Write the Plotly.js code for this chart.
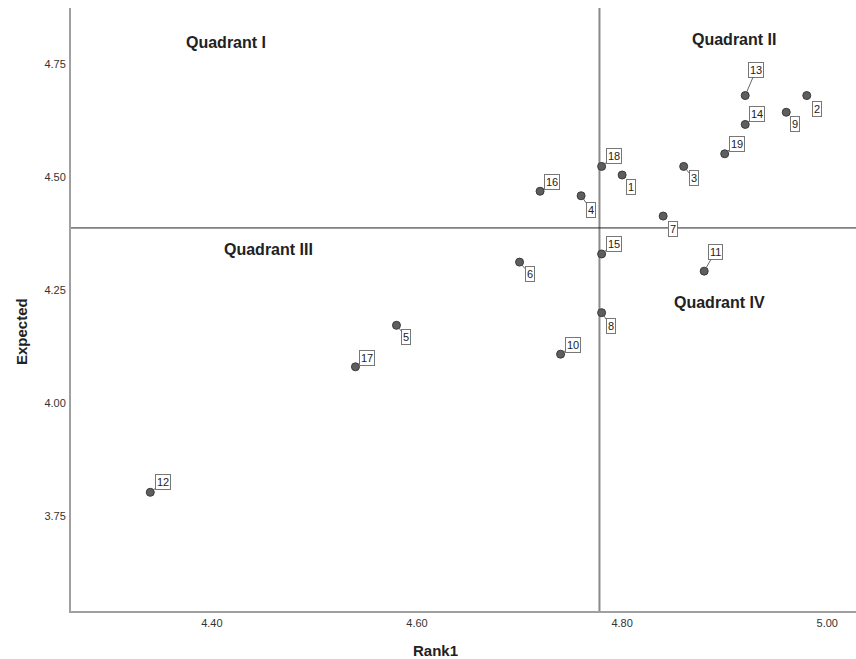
<!DOCTYPE html>
<html>
<head>
<meta charset="utf-8">
<script src="https://cdn.plot.ly/plotly-3.0.1.min.js"></script>
<style>
  html, body { margin: 0; padding: 0; background: #fff; }
  #chart { width: 856px; height: 659px; }
</style>
</head>
<body>
<div id="chart"></div>
<script>
// ---- data ----
const itemIds  = ["13", "2", "9", "14", "19", "3", "18", "1", "16", "4", "7", "15", "6", "11", "8", "5", "10", "17", "12"];
const rank1    = [4.92, 4.98, 4.96, 4.92, 4.90, 4.86, 4.78, 4.80, 4.72, 4.76, 4.84, 4.78, 4.70, 4.88, 4.78, 4.58, 4.74, 4.54, 4.34];
const expected = [4.681, 4.681, 4.644, 4.617, 4.552, 4.524, 4.524, 4.505, 4.469, 4.459, 4.414, 4.330, 4.312, 4.292, 4.200, 4.172, 4.108, 4.080, 3.802];
const xTickVals = [4.40, 4.60, 4.80, 5.00];
const xTickText = ["4.40", "4.60", "4.80", "5.00"];
const yTickVals = [3.75, 4.00, 4.25, 4.50, 4.75];
const yTickText = ["3.75", "4.00", "4.25", "4.50", "4.75"];
const quadrantNames = ["Quadrant I", "Quadrant II", "Quadrant III", "Quadrant IV"];
const xTitle = "Rank1";
const yTitle = "Expected";

// reference lines at the means of the two variables
const mean = a => a.reduce((s, v) => s + v, 0) / a.length;
const rank1Mean = mean(rank1);
const expectedMean = mean(expected);

// ---- layout-only label offsets (pixels from point to label box centre) ----
const labelDx = [11, 10, 9, 12, 12, 10, 12, 9, 12, 10, 10, 12, 10, 11, 9, 10, 12, 12, 13];
const labelDy = [-26, 13, 12, -10, -10, 12, -10, 12, -9, 14, 13, -10, 12, -19, 13, 12, -9, -9, -10];
const quadPos = [[0.1975, 0.942], [0.8446, 0.947], [0.2522, 0.6003], [0.8255, 0.5124]];

const FONT = "Liberation Sans, Arial, sans-serif";

const trace = {
  type: "scatter",
  mode: "markers",
  x: rank1,
  y: expected,
  text: itemIds,
  hoverinfo: "text",
  marker: { size: 8, color: "#5e5e5e", line: { color: "#3a3a3a", width: 1 } },
  showlegend: false
};

const annotations = [];
itemIds.forEach((id, i) => {
  annotations.push({
    x: rank1[i], y: expected[i], xref: "x", yref: "y",
    text: id,
    showarrow: true, arrowhead: 0, arrowwidth: 1, arrowcolor: "#666",
    standoff: 4,
    ax: labelDx[i], ay: labelDy[i],
    font: { family: FONT, size: 11, color: "#222" },
    bgcolor: "#ffffff", bordercolor: "#777", borderwidth: 1, borderpad: 1
  });
});
quadrantNames.forEach((q, i) => {
  annotations.push({
    x: quadPos[i][0], y: quadPos[i][1], xref: "paper", yref: "paper",
    xanchor: "center", yanchor: "middle",
    text: "<b>" + q + "</b>", showarrow: false,
    font: { family: FONT, size: 16, color: "#222" }
  });
});
// axis titles
annotations.push({
  x: 0.4647, y: -0.0647, xref: "paper", yref: "paper", xanchor: "center", yanchor: "middle",
  text: "<b>" + xTitle + "</b>", showarrow: false,
  font: { family: FONT, size: 15, color: "#222" }
});
annotations.push({
  x: -0.0624, y: 0.4627, xref: "paper", yref: "paper", xanchor: "center", yanchor: "middle",
  text: "<b>" + yTitle + "</b>", showarrow: false, textangle: -90,
  font: { family: FONT, size: 15, color: "#222" }
});

const layout = {
  width: 856, height: 659,
  margin: { l: 71, r: 0, t: 8, b: 48, pad: 0 },
  paper_bgcolor: "#fff", plot_bgcolor: "#fff",
  font: { family: FONT, color: "#333" },
  xaxis: {
    range: [4.2627, 5.028], showgrid: false, zeroline: false,
    showline: true, linecolor: "#a0a0a0", linewidth: 2,
    ticks: "", tickvals: xTickVals, ticktext: xTickText,
    tickfont: { size: 11, color: "#333" }, ticklabelstandoff: 1,
    title: { text: "" }
  },
  yaxis: {
    range: [3.539, 4.875], showgrid: false, zeroline: false,
    showline: true, linecolor: "#a0a0a0", linewidth: 2,
    ticks: "", tickvals: yTickVals, ticktext: yTickText,
    tickfont: { size: 11, color: "#333" }, ticklabelstandoff: 1,
    title: { text: "" }
  },
  shapes: [
    { type: "line", xref: "x", yref: "paper", x0: rank1Mean, x1: rank1Mean, y0: 0, y1: 1,
      line: { color: "#8a8a8a", width: 2 }, layer: "below" },
    { type: "line", xref: "paper", yref: "y", x0: 0, x1: 1, y0: expectedMean, y1: expectedMean,
      line: { color: "#222", width: 1 }, layer: "below" }
  ],
  annotations: annotations
};

Plotly.newPlot("chart", [trace], layout, { displayModeBar: false, staticPlot: true });
</script>
</body>
</html>
